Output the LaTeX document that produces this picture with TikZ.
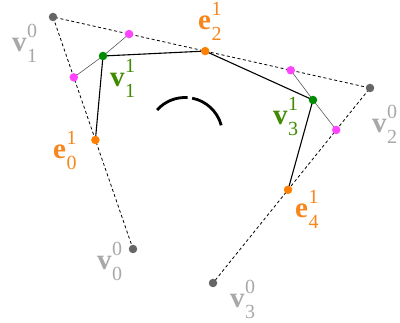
\documentclass[tikz,border=0pt]{standalone}
\usepackage{fontspec}
\setmainfont{Liberation Serif}
\usetikzlibrary{calc}
\definecolor{dotgray}{HTML}{666666}
\definecolor{labgray}{HTML}{A8A8A8}
\definecolor{orng}{HTML}{FF8000}
\definecolor{labor}{HTML}{F7861C}
\definecolor{dgreen}{HTML}{008C00}
\definecolor{labgreen}{HTML}{3F8A00}
\definecolor{mag}{HTML}{FF44FF}
\newcommand\lbl[3]{\textbf{#1}\kern0.5pt\makebox[0pt][l]{\raisebox{14pt}{\fontsize{20}{20}\selectfont #2}}\raisebox{-11pt}{\fontsize{20}{20}\selectfont #3}}
\tikzset{
  pt/.style={circle,inner sep=0pt,minimum size=8.5pt,fill=#1},
  lab/.style={anchor=base west,inner sep=0pt,text=#1,font=\fontsize{29}{30}\selectfont},
  old/.style={draw=black,line width=0.8pt,dash pattern=on 3pt off 2.5pt},
  new/.style={draw=black,line width=1.1pt},
  cut/.style={draw=black!65,line width=0.6pt},
}
\begin{document}
\begin{tikzpicture}[x=1pt,y=-1pt]
\useasboundingbox (0,0) rectangle (400,323);
% original vertices
\coordinate (V1) at (53,17);
\coordinate (V2) at (370,88);
\coordinate (V0) at (133,249);
\coordinate (V3) at (213,283);
% edge points and cut points
\coordinate (E0) at ($(V1)!0.53!(V0)$);
\coordinate (E2) at ($(V1)!0.48!(V2)$);
\coordinate (E4) at ($(V2)!0.522!(V3)$);
\coordinate (M1) at ($(V1)!0.26!(V0)$);
\coordinate (M2) at ($(V1)!0.24!(V2)$);
\coordinate (M3) at ($(V1)!0.75!(V2)$);
\coordinate (M4) at ($(V2)!0.215!(V3)$);
\coordinate (N1) at (103,56);
\coordinate (N3) at (313,100);
% dashed control polygon
\draw[old] (V0) -- (V1) -- (V2) -- (V3);
% new polygon
\draw[new] (E0) -- (N1) -- (E2) -- (N3) -- (E4);
% cuts
\draw[cut] (M1) -- (N1) -- (M2);
\draw[cut] (M3) -- (N3) -- (M4);
% arc
\draw[line width=2.8pt] (185,135) ++(-138:37.5) arc[start angle=-138,end angle=-86,radius=37.5];
\draw[line width=2.8pt] (185,135) ++(-79:37.5) arc[start angle=-79,end angle=-15,radius=37.5];
% dots
\node[pt=dotgray] (v1) at (V1) {};
\node[pt=dotgray] (v2) at (V2) {};
\node[pt=dotgray] (v0) at (V0) {};
\node[pt=dotgray] (v3) at (V3) {};
\node[pt=mag] (m1) at (M1) {};
\node[pt=mag] (m2) at (M2) {};
\node[pt=mag] (m3) at (M3) {};
\node[pt=mag] (m4) at (M4) {};
\node[pt=orng] (e0) at (E0) {};
\node[pt=orng] (e2) at (E2) {};
\node[pt=orng] (e4) at (E4) {};
\node[pt=dgreen] (n1) at (N1) {};
\node[pt=dgreen] (n3) at (N3) {};
% labels
\node[lab=labgray] (lv1) at (12,52) {\lbl{v}{0}{1}};
\node[lab=labgray] (lv2) at (372,133) {\lbl{v}{0}{2}};
\node[lab=labgray] (lv0) at (97,270) {\lbl{v}{0}{0}};
\node[lab=labgray] (lv3) at (230,308) {\lbl{v}{0}{3}};
\node[lab=labgreen] (ln1) at (110,87) {\lbl{v}{1}{1}};
\node[lab=labgreen] (ln3) at (273,125) {\lbl{v}{1}{3}};
\node[lab=labor] (le2) at (198,30) {\lbl{e}{1}{2}};
\node[lab=labor] (le0) at (53,159) {\lbl{e}{1}{0}};
\node[lab=labor] (le4) at (295,218) {\lbl{e}{1}{4}};
\end{tikzpicture}
\end{document}
